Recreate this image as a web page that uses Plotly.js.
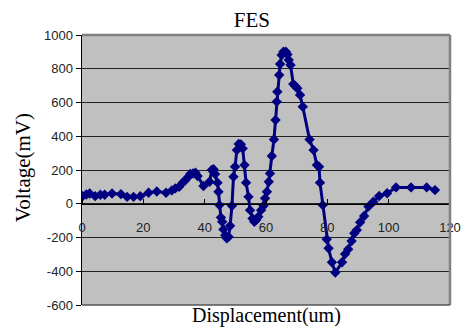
<!DOCTYPE html>
<html>
<head>
<meta charset="utf-8">
<script src="https://cdn.plot.ly/plotly-3.0.1.min.js"></script>
<style>html,body{margin:0;padding:0;background:#fff;}#chart{width:463px;height:329px;}</style>
</head>
<body>
<div id="chart"></div>
<script>
var displacement = [0.2,1.4,2.5,4.3,6,7.4,9.8,12.7,14.7,16.8,19,21.7,24.4,27.4,29.3,30.4,31.7,32.8,33.6,34.7,35.3,36.2,37,37.7,39.6,41.6,42.3,42.9,43.4,44.2,44.5,44.8,45.3,45.7,46.1,46.7,47.2,47.8,48.3,48.9,49.4,49.9,50.5,51.1,51.8,52.4,53,53.5,54.3,54.8,55.6,56.2,56.8,57.5,58.4,59.2,59.7,60.3,60.9,61.3,61.9,62.6,63.1,63.5,63.7,64.3,64.6,65.1,65.7,66.5,67,67.4,68,68.9,69.5,70.2,71.1,72,74.2,75.5,76.6,77.3,77.6,78.5,79.8,80.4,81.5,82.6,84.8,85.8,86.8,87.9,88.8,89.6,90.7,92,93.4,95,96.9,99.5,102.4,107.3,112.4,115.1];
var voltage = [45,55,61,45,53,53,61,57,41,41,45,65,73,65,79,91,101,125,138,160,176,180,184,164,105,130,200,205,176,125,71,-8,-81,-107,-152,-186,-204,-196,-130,-12,160,219,318,354,352,328,229,125,41,-38,-87,-107,-97,-77,-38,-12,32,71,130,180,283,381,496,605,664,763,828,881,901,901,885,852,822,709,698,684,644,575,381,318,229,219,125,-8,-211,-264,-347,-408,-347,-298,-270,-221,-175,-156,-110,-73,-17,12,46,62,97,97,97,81];
var xTicks = [0,20,40,60,80,100,120];
var yTicks = [-600,-400,-200,0,200,400,600,800,1000];

var trace = {
  x: displacement, y: voltage, type: 'scatter', mode: 'lines+markers',
  line: {color: '#000080', width: 3},
  marker: {symbol: 'diamond', size: 8, color: '#000080'},
  hoverinfo: 'none', showlegend: false
};
var serif = 'Liberation Serif, Times New Roman, serif';
var layout = {
  width: 463, height: 329,
  margin: {l: 82, r: 13, t: 35, b: 24},
  paper_bgcolor: '#ffffff', plot_bgcolor: '#c0c0c0',
  title: {text: 'FES', font: {family: serif, size: 21, color: '#000'}, xref: 'container', x: 0.544, xanchor: 'center', yref: 'container', y: 0.94, yanchor: 'middle'},
  xaxis: {
    range: [0, 120], tickvals: xTicks, ticktext: xTicks.map(String),
    anchor: 'free', position: 0.375, showgrid: false, zeroline: false,
    showline: true, linecolor: '#000', linewidth: 1,
    ticks: 'outside', ticklen: 12, tickcolor: 'rgba(0,0,0,0)',
    minor: {tickvals: xTicks, ticks: 'inside', ticklen: 5, tickcolor: '#000', showgrid: false},
    tickfont: {family: 'Liberation Sans, Arial, sans-serif', size: 13, color: '#222'}
  },
  yaxis: {
    range: [-600, 1000], tickvals: yTicks, ticktext: yTicks.map(String),
    showgrid: true, gridcolor: '#222', gridwidth: 1, zeroline: false,
    showline: true, linecolor: '#000', linewidth: 1.5,
    ticks: 'outside', ticklen: 5, tickcolor: '#000',
    tickfont: {family: 'Liberation Sans, Arial, sans-serif', size: 13, color: '#222'}
  },
  shapes: [
    {type: 'line', xref: 'paper', yref: 'paper', x0: 0, x1: 1, y0: 1, y1: 1, line: {color: '#808080', width: 2.5}},
    {type: 'line', xref: 'paper', yref: 'paper', x0: 1, x1: 1, y0: 0, y1: 1, line: {color: '#808080', width: 2.5}},
    {type: 'line', xref: 'paper', yref: 'paper', x0: 0, x1: 1, y0: 0, y1: 0, line: {color: '#555', width: 1.5}}
  ],
  annotations: [
    {text: 'Displacement(um)', xref: 'paper', yref: 'paper', x: 0.5, y: -0.04, xanchor: 'center', yanchor: 'middle', showarrow: false, font: {family: serif, size: 20, color: '#000'}},
    {text: 'Voltage(mV)', xref: 'paper', yref: 'paper', x: -0.16, y: 0.507, xanchor: 'center', yanchor: 'middle', textangle: -90, showarrow: false, font: {family: serif, size: 21, color: '#000'}}
  ]
};
Plotly.newPlot('chart', [trace], layout, {displayModeBar: false, staticPlot: true});
</script>
</body>
</html>
